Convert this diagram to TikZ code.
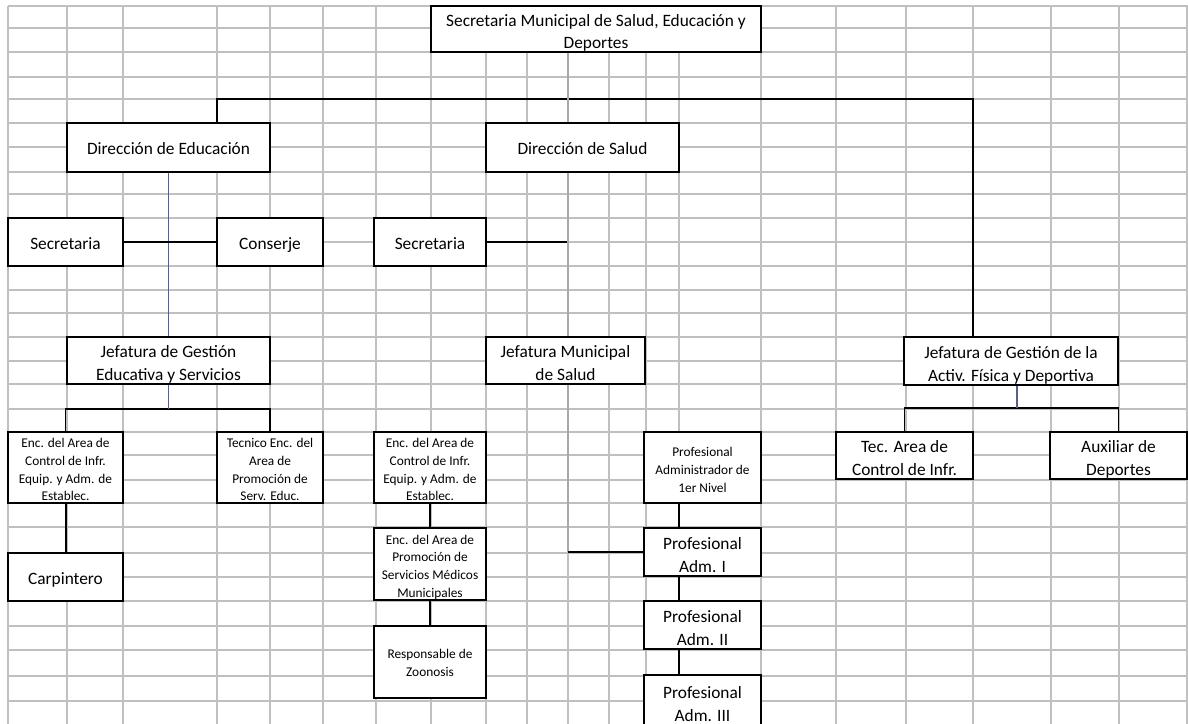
\documentclass[tikz,border=0pt]{standalone}
\usepackage{fontspec}
\setmainfont{Carlito}
\usetikzlibrary{positioning}
\definecolor{gridgray}{HTML}{C0C0C0}
\definecolor{spinegray}{HTML}{A8A8A8}
\definecolor{linkblue}{HTML}{5A5F85}
\newcommand\boxfont{\fontsize{13}{17}\selectfont}
\newcommand\cellfont{\fontsize{10}{13.3}\selectfont}

\begin{document}
\begin{tikzpicture}
  [x=0.75pt,y=-0.75pt,
   every node/.style={draw,rectangle,line width=1.8pt,fill=white,align=center,inner sep=0pt,font=\boxfont,text depth=0pt},
   wh/.style 2 args={minimum width=#1*0.75pt,minimum height=#2*0.75pt},
   big1/.style={text height=11pt},
   big2/.style={text height=30pt},
   small2/.style={font=\cellfont,text height=22pt},
   small3/.style={font=\cellfont,text height=37pt},
   small4/.style={font=\cellfont,text height=50pt},
   gridline/.style={draw=gridgray,line width=1pt},
   link/.style={line width=0.8pt},
   thick link/.style={line width=1.6pt},
   blue link/.style={draw=linkblue,line width=0.8pt},
   grey link/.style={draw=spinegray,line width=1pt}]
  \useasboundingbox (0,0) rectangle (1188,724);
  \fill[white] (0,0) rectangle (1188,724);
  % the sheet
  \foreach \gx in {8,67,123,217,270,323,376,431,486,527,568,609,646,679,761,836,906,973,1051,1119,1187}
    \draw[gridline] (\gx,6) -- (\gx,724);
  \foreach \gy in {6,28,52,77,99,123,147,172,194,218,242,266,290,313,337,361,384,409,432,455,480,503,527,553,577,601,626,650,676,701}
    \draw[gridline] (8,\gy) -- (1188,\gy);
  % boxes
  \node[big2,wh={330}{46}] (top) at (596,29) {Secretaria Municipal de Salud, Educación y\\Deportes};
  \node[big1,wh={203}{49}] (diredu) at (168.5,147.5) {Dirección de Educación};
  \node[big1,wh={193}{49}] (dirsal) at (582.5,147.5) {Dirección de Salud};
  \node[big1,wh={115}{48}] (secedu) at (65.5,242) {Secretaria};
  \node[big1,wh={106}{48}] (conserje) at (270,242) {Conserje};
  \node[big1,wh={112}{48}] (secsal) at (430,242) {Secretaria};
  \node[big2,wh={203}{47}] (jefedu) at (168.5,360.5) {Jefatura de Gestión\\Educativa y Servicios};
  \node[big2,wh={159}{47}] (jefsal) at (565.5,360.5) {Jefatura Municipal\\de Salud};
  \node[big2,wh={214}{48}] (jefdep) at (1011,361) {Jefatura de Gestión de la\\Activ. Física y Deportiva};
  \node[small4,wh={115}{71}] (encedu) at (65.5,467.5) {Enc. del Area de\\Control de Infr.\\Equip. y Adm. de\\Establec.};
  \node[small4,wh={106}{71}] (tecedu) at (270,467.5) {Tecnico Enc. del\\Area de\\Promoción de\\Serv. Educ.};
  \node[big1,wh={115}{48}] (carp) at (65.5,577) {Carpintero};
  \node[small4,wh={112}{71}] (encsal) at (430,467.5) {Enc. del Area de\\Control de Infr.\\Equip. y Adm. de\\Establec.};
  \node[small4,wh={112}{72}] (promsal) at (430,564) {Enc. del Area de\\Promoción de\\Servicios Médicos\\Municipales};
  \node[small2,wh={112}{72}] (zoon) at (430,662) {Responsable de\\Zoonosis};
  \node[small3,wh={117}{71}] (profadm) at (702.5,467.5) {Profesional\\Administrador de\\1er Nivel};
  \node[big2,wh={117}{48}] (prof1) at (702.5,552) {Profesional\\Adm. I};
  \node[big2,wh={117}{48}] (prof2) at (702.5,625) {Profesional\\Adm. II};
  \node[big2,wh={117}{52}] (prof3) at (702.5,701) {Profesional\\Adm. III};
  \node[big2,wh={137}{47}] (tecdep) at (904.5,455.5) {Tec. Area de\\Control de Infr.};
  \node[big2,wh={137}{47}] (auxdep) at (1118.5,455.5) {Auxiliar de\\Deportes};
  \coordinate (busL) at (217,99);
  \coordinate (busR) at (973,99);
  \coordinate (edubus) at (168.5,409);
  \coordinate (spine) at (568,552);
  \coordinate (pcol) at (679,503);
  \coordinate (depbus) at (1017,408);
  % top level
  \draw[link] (diredu.north -| busL) -- (busL) -- (busR) -- (jefdep.north -| busR);
  \draw[grey link] (top.south -| spine) -- (dirsal.north -| spine);
  % educacion
  \draw[blue link] (diredu.south) -- (jefedu.north);
  \draw[link] (secedu.east) -- (conserje.west);
  \draw[link] (encedu.north -| jefedu.west) |- (edubus) -| (tecedu.north);
  \draw[blue link] (jefedu.south) -- (edubus);
  \draw[thick link] (encedu.south -| jefedu.west) -- (carp.north -| jefedu.west);
  % salud
  \draw[link] (secsal.east) -- (secsal.east -| spine);
  \draw[grey link] (dirsal.south -| spine) -- (jefsal.north -| spine);
  \draw[grey link] (jefsal.south -| spine) -- (spine);
  \draw[link] (spine) -- (prof1.west);
  \foreach \from/\to in {encsal/promsal,promsal/zoon}
    \draw[thick link] (\from.south) -- (\to.north);
  \foreach \from/\to in {profadm/prof1,prof1/prof2,prof2/prof3}
    \draw[thick link] (\from.south -| pcol) -- (\to.north -| pcol);
  % deportes
  \draw[link] (tecdep.north) |- (depbus) -| (auxdep.north);
  \draw[blue link] (jefdep.south -| depbus) -- (depbus);
\end{tikzpicture}
\end{document}
